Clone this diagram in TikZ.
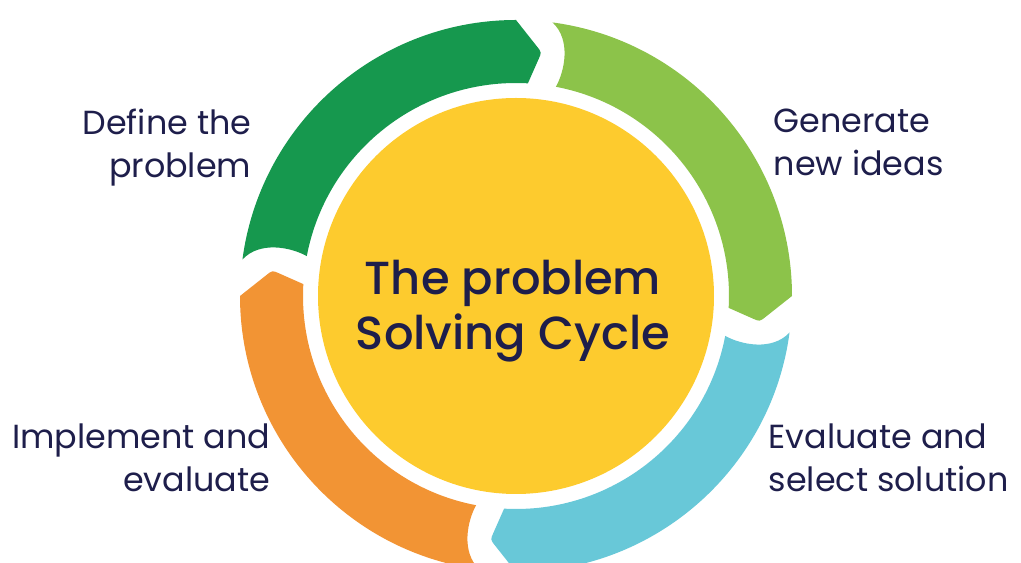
\documentclass[tikz,border=0pt]{standalone}
\usepackage{fontspec}
\setmainfont{Poppins}
\newfontfamily\corefont{Poppins Medium}
\usetikzlibrary{
    calc
}

\definecolor{definegreen}{RGB}{22,152,78}
\definecolor{ideagreen}{RGB}{140,195,74}
\definecolor{selectblue}{RGB}{104,200,216}
\definecolor{implementorange}{RGB}{242,148,52}
\definecolor{coreyellow}{RGB}{253,203,46}
\definecolor{labelnavy}{RGB}{30,30,75}

\begin{document}
\begin{tikzpicture}
[
    font=\fontsize{9.5}{12.2}\selectfont,
    sidetext/.style={
        inner sep=0pt,
        text=labelnavy
    },
    core/.style={
        circle,
        fill=coreyellow,
        minimum size=3.96cm,
        inner sep=0pt
    },
    segment/.style={
        draw=none
    }
]


% =====================
% CANVAS
% =====================

\useasboundingbox (0,0) rectangle (10.21,5.63);

\coordinate (centre) at (5.16,2.67);



% =====================
% RING SEGMENTS
% =====================

\begin{scope}[shift={(centre)}]

% define the problem
\fill[segment, definegreen]
(90:2.76) arc[start angle=90, end angle=172.4, radius=2.76]
.. controls (167.8:2.62) and (167.8:2.30) .. (169.2:2.13)
arc[start angle=169.2, end angle=86.8, radius=2.13]
-- ($(86.8:2.13)!0.8!(84:2.45)$)
.. controls (84:2.45) .. ($(84:2.45)!0.2!(90:2.76)$)
-- cycle;


% generate new ideas
\fill[segment, ideagreen]
(0:2.76) arc[start angle=0, end angle=82.4, radius=2.76]
.. controls (77.8:2.62) and (77.8:2.30) .. (79.2:2.13)
arc[start angle=79.2, end angle=-3.2, radius=2.13]
-- ($(-3.2:2.13)!0.8!(-6:2.45)$)
.. controls (-6:2.45) .. ($(-6:2.45)!0.2!(0:2.76)$)
-- cycle;


% evaluate and select
\fill[segment, selectblue]
(270:2.76) arc[start angle=270, end angle=352.4, radius=2.76]
.. controls (347.8:2.62) and (347.8:2.30) .. (349.2:2.13)
arc[start angle=349.2, end angle=266.8, radius=2.13]
-- ($(266.8:2.13)!0.8!(264:2.45)$)
.. controls (264:2.45) .. ($(264:2.45)!0.2!(270:2.76)$)
-- cycle;


% implement and evaluate
\fill[segment, implementorange]
(180:2.76) arc[start angle=180, end angle=262.4, radius=2.76]
.. controls (257.8:2.62) and (257.8:2.30) .. (259.2:2.13)
arc[start angle=259.2, end angle=176.8, radius=2.13]
-- ($(176.8:2.13)!0.8!(174:2.45)$)
.. controls (174:2.45) .. ($(174:2.45)!0.2!(180:2.76)$)
-- cycle;

\end{scope}



% =====================
% CORE
% =====================

\node[core] (core) at (centre) {};

\node[
text=labelnavy,
align=center,
font=\corefont\fontsize{13.2}{15.6}\selectfont
]
(title)
at ([xshift=-0.03cm, yshift=-0.15cm]core.center)
{
The problem\\
Solving Cycle
};



% =====================
% LABELS
% =====================

\node[
sidetext,
anchor=north east,
align=right
]
(define)
at (2.52,4.55)
{
Define the\\
problem
};


\node[
sidetext,
anchor=north west,
align=left
]
(generate)
at (7.73,4.55)
{
Generate\\
new ideas
};


\node[
sidetext,
anchor=north east,
align=right
]
(implement)
at (2.71,1.40)
{
Implement and\\
evaluate
};


\node[
sidetext,
anchor=north west,
align=left
]
(select)
at (7.68,1.40)
{
Evaluate and\\
select solution
};


\end{tikzpicture}
\end{document}
